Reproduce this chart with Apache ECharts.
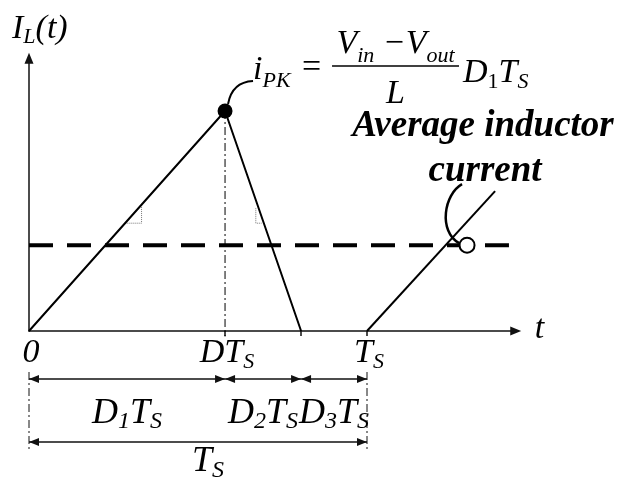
<!DOCTYPE html>
<html>
<head>
<meta charset="utf-8">
<script src="https://cdn.jsdelivr.net/npm/echarts@6/dist/echarts.min.js"></script>
<style>
  html, body { margin: 0; padding: 0; background: #fff; }
  #chart { width: 619px; height: 482px; }
</style>
</head>
<body>
<div id="chart"></div>
<script>
// Inductor current in discontinuous conduction; time in units of Ts, current in units of i_PK
// first switching period: rise to the peak, fall back to zero
const cycleTime    = [0, 0.58, 0.805];
const cycleCurrent = [0, 1,    0];
// start of the next period
const nextTime    = [1.0, 1.379];
const nextCurrent = [0,   0.636];
const peakTime = 0.58;
const peakCurrent = 1;
const avgCurrent = 0.39;
const avgLineEnd = 1.42;
const avgMarkerTime = 1.296;

// slope markers on the rising and falling edges
const riseMarkerTime    = [0.289, 0.333, 0.333];
const riseMarkerCurrent = [0.49,  0.49,  0.573];
const fallMarkerTime    = [0.671, 0.671, 0.688];
const fallMarkerCurrent = [0.558, 0.49,  0.49];

// time axis ticks and labels ("_" marks a subscript, "_{..}" a longer one)
const tickTimes  = [0.58, 0.805, 1.0];
const labelTimes = [0, 0.58, 1.0];
const tickLabels = ['0', 'DT_S', 'T_S'];

// interval dimensions under the axis
const spanStart  = [0, 0.58, 0.805];
const spanEnd    = [0.58, 0.805, 1.0];
const spanLabels = ['D_1T_S', 'D_2T_S', 'D_3T_S'];
const periodStart = 0;
const periodEnd = 1.0;
const periodLabel = 'T_S';

const FONT = '"Liberation Serif", "Times New Roman", serif';
const MID = 0.26; // distance from text middle to baseline, in em

const chart = echarts.init(document.getElementById('chart'), null, { renderer: 'canvas' });

const pairs = (xs, ys) => xs.map((x, i) => [x, ys[i]]);

const axisLineStyle = { color: '#111', width: 1.5 };

chart.setOption({
  animation: false,
  backgroundColor: '#fff',
  grid: { left: 29, top: 331 - 1.24 * 220, width: 1.44 * 338, height: 1.24 * 220 },
  xAxis: {
    type: 'value', min: 0, max: 1.44,
    axisLine: { show: true, onZero: true, symbol: ['none', 'triangle'], symbolSize: [9, 11], lineStyle: axisLineStyle },
    axisTick: { show: true, customValues: tickTimes, length: 5, inside: false, lineStyle: { color: '#111', width: 1.5 } },
    axisLabel: { show: false },
    splitLine: { show: false }
  },
  yAxis: {
    type: 'value', min: 0, max: 1.24,
    axisLine: { show: true, symbol: ['none', 'triangle'], symbolSize: [9, 11], lineStyle: axisLineStyle },
    axisTick: { show: false },
    axisLabel: { show: false },
    splitLine: { show: false }
  },
  series: [
    {
      name: 'avg', type: 'line', silent: true, symbol: 'none', z: 2,
      data: [[0, avgCurrent], [avgLineEnd, avgCurrent]],
      lineStyle: { color: '#000', width: 4, type: [24, 14], cap: 'butt' }
    },
    {
      name: 'dt', type: 'line', silent: true, symbol: 'none', clip: false, z: 2,
      data: [[peakTime, peakCurrent], [peakTime, -0.025]],
      lineStyle: { color: '#000', width: 1, type: [8, 3, 2, 3] }
    },
    {
      name: 'riseMarker', type: 'line', silent: true, symbol: 'none', z: 2,
      data: pairs(riseMarkerTime, riseMarkerCurrent),
      lineStyle: { color: '#777', width: 1, type: [1, 1] }
    },
    {
      name: 'fallMarker', type: 'line', silent: true, symbol: 'none', z: 2,
      data: pairs(fallMarkerTime, fallMarkerCurrent),
      lineStyle: { color: '#777', width: 1, type: [1, 1] }
    },
    {
      name: 'iL', type: 'line', silent: true, symbol: 'none', z: 3,
      data: pairs(cycleTime, cycleCurrent),
      lineStyle: { color: '#000', width: 2 }
    },
    {
      name: 'iLnext', type: 'line', silent: true, symbol: 'none', z: 3,
      data: pairs(nextTime, nextCurrent),
      lineStyle: { color: '#000', width: 2 }
    },
    {
      name: 'peak', type: 'scatter', silent: true, z: 4,
      data: [[peakTime, peakCurrent]], symbol: 'circle', symbolSize: 15,
      itemStyle: { color: '#000', opacity: 1 }
    },
    {
      name: 'avgMark', type: 'scatter', silent: true, z: 4,
      data: [[avgMarkerTime, avgCurrent]], symbol: 'circle', symbolSize: 15,
      itemStyle: { color: '#fff', borderColor: '#000', borderWidth: 2, opacity: 1 }
    }
  ]
});

// ---- text with subscripts, laid out piece by piece ----
const measureCtx = document.createElement('canvas').getContext('2d');
function fontOf(p) {
  return (p.italic ? 'italic ' : '') + (p.bold ? 'bold ' : '') + p.size + 'px ' + FONT;
}
function parseMarkup(s) {
  const out = [];
  const re = /_\{([^}]*)\}|_(.)|([^_]+)/g;
  let m;
  while ((m = re.exec(s))) {
    if (m[3] !== undefined) out.push({ t: m[3], sub: false });
    else out.push({ t: m[1] !== undefined ? m[1] : m[2], sub: true });
  }
  return out;
}
function textRun(markup, x, base, o) {
  const upright = o.upright || [];
  const parts = parseMarkup(markup).map(p => ({
    t: p.t,
    size: p.sub ? o.subSize : o.size,
    italic: o.italic !== false && upright.indexOf(p.t) < 0,
    bold: !!o.bold,
    dy: p.sub ? o.subDrop : 0
  }));
  let w = 0;
  parts.forEach(p => { measureCtx.font = fontOf(p); p.w = measureCtx.measureText(p.t).width; w += p.w; });
  let cx = o.align === 'center' ? x - w / 2 : (o.align === 'right' ? x - w : x);
  return parts.map(p => {
    const el = {
      type: 'text', silent: true, z: 20,
      style: {
        text: p.t, x: cx, y: base + p.dy - MID * p.size, font: fontOf(p), fill: '#000',
        align: 'left', verticalAlign: 'middle', textAlign: 'left', textVerticalAlign: 'middle'
      }
    };
    cx += p.w;
    return el;
  });
}

function seg(x1, y1, x2, y2, style) {
  return { type: 'line', silent: true, z: 15, shape: { x1, y1, x2, y2 }, style: Object.assign({ stroke: '#111', lineWidth: 1.5 }, style || {}) };
}
function arrowHead(tipX, y, dir) {
  // dir = +1 points right, -1 points left
  const L = 10, H = 4;
  return { type: 'polygon', silent: true, z: 15, shape: { points: [[tipX, y], [tipX - dir * L, y - H], [tipX - dir * L, y + H]] }, style: { fill: '#111' } };
}
function dimension(x1, x2, y) {
  return [seg(x1, y, x2, y), arrowHead(x1, y, -1), arrowHead(x2, y, 1)];
}

function px(t, i) { return chart.convertToPixel({ gridIndex: 0 }, [t, i]); }

function buildGraphics() {
  const g = [];
  const [ox, oy] = px(0, 0);
  const [, yTop] = px(0, 1.24);
  const [xEnd] = px(1.44, 0);
  const [pkx, pky] = px(peakTime, peakCurrent);
  const [cx, cy] = px(avgMarkerTime, avgCurrent);

  // axis titles
  g.push(...textRun('I_L(t)', ox - 17, yTop - 20, { size: 34, subSize: 22, subDrop: 5, align: 'left' }));
  g.push(...textRun('t', xEnd + 19, oy + 7, { size: 34, subSize: 22, subDrop: 5, align: 'left' }));

  // tick labels
  labelTimes.forEach((t, k) => {
    const [x] = px(t, 0);
    g.push(...textRun(tickLabels[k], x + 2, oy + 31, { size: 34, subSize: 22, subDrop: 6, align: 'center' }));
  });

  // dimension lines for the sub-intervals and the full period
  const row1 = oy + 48, row2 = oy + 111;
  spanStart.forEach((s, k) => {
    const [x1] = px(s, 0);
    const [x2] = px(spanEnd[k], 0);
    g.push(...dimension(x1, x2, row1));
    g.push(...textRun(spanLabels[k], (x1 + x2) / 2, oy + 92, { size: 36, subSize: 24, subDrop: 5, align: 'center' }));
  });
  const [p1] = px(periodStart, 0);
  const [p2] = px(periodEnd, 0);
  g.push(...dimension(p1, p2, row2));
  g.push(...textRun(periodLabel, (p1 + p2) / 2 + 10, oy + 140, { size: 36, subSize: 24, subDrop: 6, align: 'center' }));
  [p1, p2].forEach(x => g.push(seg(x, oy + 41, x, oy + 120, { lineWidth: 1, lineDash: [8, 3, 2, 3] })));

  // peak current expression
  g.push({
    type: 'bezierCurve', silent: true, z: 15,
    shape: { x1: pkx + 28, y1: pky - 30, cpx1: pkx + 7, cpy1: pky - 29, x2: pkx + 3, y2: pky - 7 },
    style: { stroke: '#000', lineWidth: 2, fill: null }
  });
  g.push(...textRun('i_{PK}', pkx + 28, pky - 32, { size: 34, subSize: 22, subDrop: 8, align: 'left' }));
  g.push(...textRun('=', pkx + 77, pky - 34, { size: 34, italic: false, align: 'left' }));
  const fracL = pkx + 107, fracR = pkx + 234, fracY = pky - 45;
  g.push(seg(fracL, fracY, fracR, fracY, { stroke: '#000', lineWidth: 1.5 }));
  g.push(...textRun('V_{in} \u2212V_{out}', (fracL + fracR) / 2, fracY - 13, { size: 34, subSize: 22, subDrop: 9, align: 'center' }));
  g.push(...textRun('L', (fracL + fracR) / 2, fracY + 37, { size: 34, align: 'center' }));
  g.push(...textRun('D_1T_S', fracR + 4, pky - 29, { size: 34, subSize: 22, subDrop: 6, align: 'left', upright: ['1'] }));

  // average current callout
  g.push(...textRun('Average inductor', cx + 16, cy - 109, { size: 37, bold: true, align: 'center' }));
  g.push(...textRun('current', cx + 18, cy - 64, { size: 37, bold: true, align: 'center' }));
  g.push({
    type: 'bezierCurve', silent: true, z: 15,
    shape: { x1: cx - 5, y1: cy - 61, cpx1: cx - 23, cpy1: cy - 51, cpx2: cx - 29, cpy2: cy - 14, x2: cx - 8, y2: cy - 2 },
    style: { stroke: '#000', lineWidth: 2.5, fill: null }
  });

  return g;
}

chart.setOption({ graphic: buildGraphics() });
</script>
</body>
</html>
